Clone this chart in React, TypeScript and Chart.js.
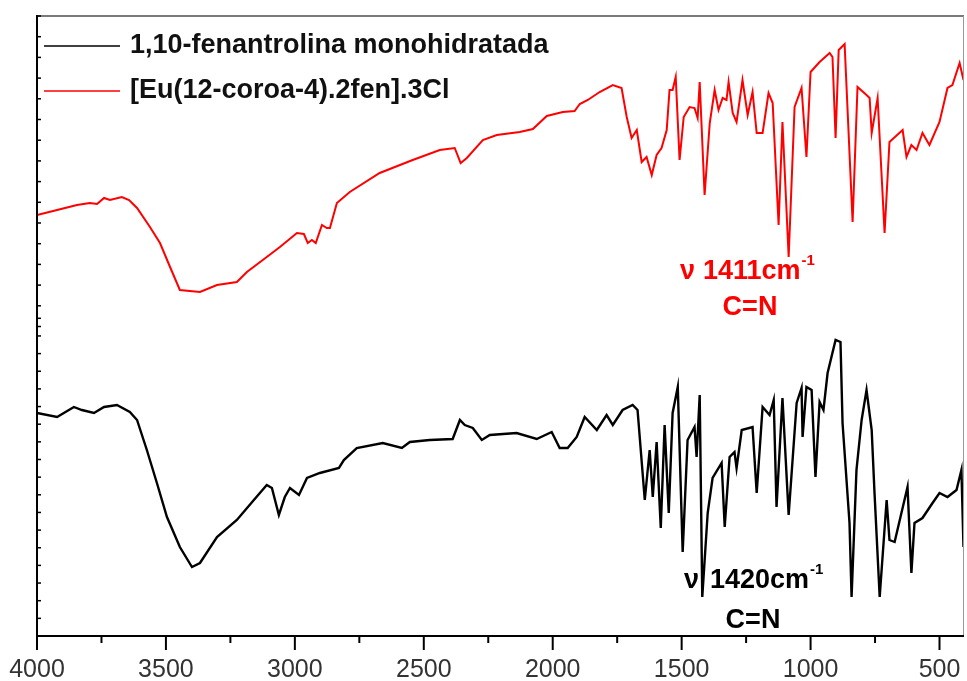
import React, { useEffect, useRef } from "react";
import { Chart, registerables } from "chart.js";

Chart.register(...registerables);

// ---------- data ----------
const X_TICKS = [4000, 3500, 3000, 2500, 2000, 1500, 1000, 500];
const X_MINOR_STEP = 250;
const X_MIN = 405;
const X_MAX = 4000;

// [Eu(12-coroa-4).2fen].3Cl  (upper spectrum, arbitrary transmittance units)
const EU_WAVENUMBER = [
  4000, 3922, 3845, 3795, 3767, 3740, 3717, 3671, 3643, 3612, 3562, 3523, 3484, 3446, 3368, 3302,
  3225, 3186, 3109, 3058, 2992, 2965, 2950, 2934, 2919, 2895, 2876, 2864, 2837, 2787, 2671, 2543,
  2438, 2380, 2357, 2333, 2271, 2217, 2128, 2077, 2023, 1961, 1915, 1895, 1864, 1818, 1767, 1733,
  1713, 1694, 1674, 1655, 1636, 1616, 1597, 1578, 1558, 1547, 1535, 1523, 1508, 1492, 1469, 1450,
  1438, 1430, 1411, 1391, 1372, 1357, 1341, 1326, 1318, 1302, 1287, 1264, 1244, 1225, 1209, 1186,
  1163, 1147, 1124, 1109, 1085, 1062, 1035, 1016, 1000, 965, 926, 915, 903, 891, 868, 837,
  818, 783, 771, 763, 740, 713, 694, 643, 628, 609, 589, 566, 539, 500, 469, 450,
  422, 407,
];
const EU_T = [
  107, 112, 117, 119, 118, 124, 122, 125, 122, 114, 95, 79, 55, 32, 30, 37,
  40, 50, 65, 75, 89, 88, 79, 82, 79, 97, 94, 94, 119, 130, 149, 162,
  172, 174, 159, 164, 182, 187, 190, 193, 206, 210, 211, 218, 222, 230, 237, 234,
  205, 184, 192, 160, 165, 147, 167, 174, 192, 232, 232, 245, 162, 205, 215, 214,
  204, 240, 127, 199, 232, 212, 224, 222, 240, 209, 200, 242, 207, 230, 189, 189,
  229, 219, 97, 200, 65, 215, 234, 165, 250, 260, 269, 265, 184, 272, 278, 100,
  235, 227, 224, 189, 224, 89, 180, 192, 165, 177, 172, 189, 177, 200, 234, 237,
  259, 242,
];

// 1,10-fenantrolina monohidratada (lower spectrum, arbitrary transmittance units)
const PHEN_WAVENUMBER = [
  4000, 3922, 3857, 3826, 3779, 3740, 3690, 3640, 3612, 3574, 3535, 3496, 3446, 3399, 3368, 3302,
  3225, 3159, 3109, 3089, 3062, 3039, 3019, 2984, 2953, 2903, 2829, 2810, 2760, 2659, 2585, 2554,
  2477, 2388, 2360, 2341, 2310, 2275, 2244, 2140, 2062, 2004, 1973, 1942, 1907, 1876, 1829, 1791,
  1767, 1729, 1690, 1671, 1643, 1624, 1612, 1597, 1581, 1566, 1550, 1535, 1515, 1496, 1477, 1450,
  1442, 1430, 1420, 1399, 1380, 1345, 1333, 1314, 1295, 1287, 1267, 1225, 1209, 1186, 1159, 1143,
  1132, 1109, 1085, 1054, 1035, 1031, 1016, 996, 981, 965, 950, 934, 903, 884, 876, 849,
  841, 822, 802, 783, 763, 752, 732, 705, 694, 674, 624, 609, 597, 566, 527, 500,
  469, 434, 415, 407,
];
const PHEN_T = [
  223, 219, 229, 226, 223, 229, 231, 224, 216, 186, 153, 119, 89, 69, 73, 99,
  116, 136, 151, 148, 121, 139, 148, 141, 158, 163, 168, 176, 188, 193, 188, 194,
  196, 197, 216, 211, 208, 196, 201, 203, 197, 204, 188, 188, 199, 219, 206, 221,
  211, 226, 231, 226, 136, 186, 139, 194, 108, 211, 123, 223, 249, 84, 196, 209,
  179, 241, 39, 123, 158, 173, 109, 179, 184, 168, 206, 209, 143, 229, 221, 236,
  129, 238, 121, 233, 248, 199, 249, 246, 159, 234, 226, 263, 296, 294, 213, 113,
  39, 166, 216, 246, 206, 143, 39, 136, 96, 94, 149, 63, 113, 118, 133, 143,
  139, 146, 166, 89,
];

const SERIES_LABELS = ["1,10-fenantrolina monohidratada", "[Eu(12-coroa-4).2fen].3Cl"];
const SERIES_COLORS = ["#000000", "#ff0000"];

const TOP_AXIS_MAX = 306;
const BOTTOM_AXIS_MAX = 314;
const TOP_MINOR_STEP = 20.7;
const BOTTOM_MINOR_STEP = 17.65;

const ANNOTATIONS = [
  { nu: "ν", value: "1411cm", sup: "-1", group: "C=N", color: "#ff0000" },
  { nu: "ν", value: "1420cm", sup: "-1", group: "C=N", color: "#000000" },
];

const FONT = '"Liberation Sans", Arial, Helvetica, sans-serif';

function toPoints(xs: number[], ys: number[]) {
  return xs.map((x, i) => ({ x, y: ys[i] }));
}

const decorPlugin = {
  id: "decor",
  afterDraw(chart: any) {
    const { ctx, chartArea: a, scales } = chart;
    const xs = scales.x;
    const yTop = scales.yTop;
    const yBottom = scales.yBottom;
    ctx.save();

    // frame: top and right (gray)
    ctx.strokeStyle = "#7a7a7a";
    ctx.lineWidth = 2;
    ctx.beginPath();
    ctx.moveTo(a.left, a.top);
    ctx.lineTo(a.right, a.top);
    ctx.stroke();
    ctx.lineWidth = 1;
    ctx.strokeStyle = "#9a9a9a";
    ctx.beginPath();
    ctx.moveTo(a.right - 0.5, a.top);
    ctx.lineTo(a.right - 0.5, a.bottom);
    ctx.stroke();

    // left axis + bottom axis (black)
    ctx.strokeStyle = "#000";
    ctx.lineWidth = 2;
    ctx.beginPath();
    ctx.moveTo(a.left, a.top - 1);
    ctx.lineTo(a.left, a.bottom + 1);
    ctx.stroke();
    ctx.beginPath();
    ctx.moveTo(a.left - 1, a.bottom);
    ctx.lineTo(a.right, a.bottom);
    ctx.stroke();

    // inward minor ticks on the left (two stacked axes)
    ctx.lineWidth = 1.5;
    for (let v = TOP_AXIS_MAX; v >= -6; v -= TOP_MINOR_STEP) {
      const py = yTop.getPixelForValue(v);
      ctx.beginPath();
      ctx.moveTo(a.left, py);
      ctx.lineTo(a.left + 4, py);
      ctx.stroke();
    }
    for (let v = 0; v <= BOTTOM_AXIS_MAX + 4; v += BOTTOM_MINOR_STEP) {
      const py = yBottom.getPixelForValue(v);
      ctx.beginPath();
      ctx.moveTo(a.left, py);
      ctx.lineTo(a.left + 4, py);
      ctx.stroke();
    }

    // bottom ticks (outward)
    ctx.lineWidth = 2;
    for (let v = X_MINOR_STEP * 2; v <= X_MAX; v += X_MINOR_STEP) {
      const px = xs.getPixelForValue(v);
      if (px < a.left - 1 || px > a.right + 1) continue;
      const major = X_TICKS.includes(v);
      ctx.beginPath();
      ctx.moveTo(px, a.bottom);
      ctx.lineTo(px, a.bottom + (major ? 14 : 7));
      ctx.stroke();
    }

    // legend
    ctx.font = `bold 27px ${FONT}`;
    ctx.textBaseline = "alphabetic";
    ctx.textAlign = "left";
    const legendY = [46, 91];
    SERIES_LABELS.forEach((label, i) => {
      ctx.strokeStyle = SERIES_COLORS[i];
      ctx.lineWidth = 1.5;
      ctx.beginPath();
      ctx.moveTo(a.left + 7, legendY[i]);
      ctx.lineTo(a.left + 83, legendY[i]);
      ctx.stroke();
      ctx.fillStyle = "#111";
      ctx.fillText(label, a.left + 93, legendY[i] + 7);
    });

    // annotations
    const annPos = [
      { nuX: 680, valX: 703, base: 279, groupX: 750, groupBase: 315 },
      { nuX: 684, valX: 710, base: 588, groupX: 753, groupBase: 628 },
    ];
    ANNOTATIONS.forEach((an, i) => {
      const p = annPos[i];
      ctx.fillStyle = an.color;
      ctx.font = `bold 27px ${FONT}`;
      ctx.textAlign = "left";
      ctx.fillText(an.nu, p.nuX, p.base);
      ctx.fillText(an.value, p.valX, p.base);
      const w = ctx.measureText(an.value).width;
      ctx.font = `bold 15px ${FONT}`;
      ctx.fillText(an.sup, p.valX + w + 1, p.base - 14);
      ctx.font = `bold 27px ${FONT}`;
      ctx.textAlign = "center";
      ctx.fillText(an.group, p.groupX, p.groupBase);
    });

    ctx.restore();
  },
};

export default function App() {
  const ref = useRef<HTMLCanvasElement | null>(null);

  useEffect(() => {
    if (!ref.current) return;
    const chart = new Chart(ref.current, {
      type: "line",
      data: {
        datasets: [
          {
            label: SERIES_LABELS[0],
            data: toPoints(PHEN_WAVENUMBER, PHEN_T),
            borderColor: SERIES_COLORS[0],
            borderWidth: 2.4,
            pointRadius: 0,
            tension: 0,
            yAxisID: "yBottom",
          },
          {
            label: SERIES_LABELS[1],
            data: toPoints(EU_WAVENUMBER, EU_T),
            borderColor: SERIES_COLORS[1],
            borderWidth: 2,
            pointRadius: 0,
            tension: 0,
            yAxisID: "yTop",
          },
        ],
      },
      options: {
        responsive: false,
        animation: false,
        parsing: false,
        layout: { padding: { top: 16, right: 3, left: 0, bottom: 0 } },
        plugins: { legend: { display: false }, tooltip: { enabled: false } },
        scales: {
          x: {
            type: "linear",
            reverse: true,
            min: X_MIN,
            max: X_MAX,
            grid: { display: false, drawTicks: false },
            border: { display: false },
            afterBuildTicks: (s: any) => {
              s.ticks = X_TICKS.map((v) => ({ value: v }));
            },
            afterFit: (s: any) => {
              s.height = 45;
              s.paddingLeft = 0;
              s.paddingRight = 0;
            },
            ticks: {
              autoSkip: false,
              maxRotation: 0,
              padding: 19,
              color: "#333",
              font: { family: FONT, size: 25 },
              callback: (v: any) => String(v),
            },
          },
          yBottom: {
            type: "linear",
            position: "left",
            stack: "ir",
            stackWeight: BOTTOM_AXIS_MAX,
            min: 0,
            max: BOTTOM_AXIS_MAX,
            grid: { display: false, drawTicks: false },
            border: { display: false },
            ticks: { display: false },
            afterFit: (s: any) => {
              s.width = 37;
            },
          },
          yTop: {
            type: "linear",
            position: "left",
            stack: "ir",
            stackWeight: TOP_AXIS_MAX,
            min: 0,
            max: TOP_AXIS_MAX,
            grid: { display: false, drawTicks: false },
            border: { display: false },
            ticks: { display: false },
            afterFit: (s: any) => {
              s.width = 37;
            },
          },
        },
      },
      plugins: [decorPlugin],
    });
    return () => chart.destroy();
  }, []);

  return (
    <div style={{ position: "absolute", left: 0, top: 0, width: 967, height: 681, background: "#fff" }}>
      <canvas ref={ref} width={967} height={681} style={{ display: "block" }} />
    </div>
  );
}
